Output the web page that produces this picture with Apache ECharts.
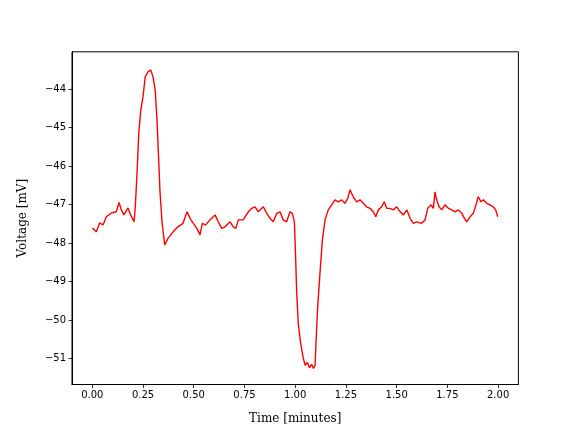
<!DOCTYPE html>
<html>
<head>
<meta charset="utf-8">
<script src="https://cdn.jsdelivr.net/npm/echarts@6/dist/echarts.min.js"></script>
<style>html,body{margin:0;padding:0;background:#fff}#c{width:576px;height:432px}</style>
</head>
<body>
<div id="c"></div>
<script>
var timeMin = [0.000,0.020,0.036,0.053,0.069,0.094,0.118,0.132,0.143,0.156,0.176,0.189,0.206,0.212,0.222,0.229,0.239,0.250,0.261,0.275,0.288,0.299,0.310,0.319,0.327,0.334,0.344,0.357,0.373,0.398,0.422,0.447,0.467,
0.482,0.498,0.515,0.531,0.542,0.559,0.580,0.605,0.621,0.638,0.654,0.679,0.695,0.707,0.720,0.744,0.769,0.786,0.802,0.818,0.843,0.860,0.876,0.892,0.909,0.925,0.941,0.958,0.974,0.986,0.996,
1.002,1.007,1.015,1.027,1.040,1.050,1.060,1.070,1.081,1.090,1.098,1.103,1.111,1.122,1.134,1.147,1.163,1.180,
1.196,1.212,1.229,1.245,1.259,1.270,1.286,1.303,1.319,1.336,1.352,1.369,1.385,1.397,1.410,1.426,1.439,1.451,1.467,1.483,1.500,1.517,1.533,1.550,1.566,1.582,1.598,
1.607,1.623,1.640,1.653,1.670,1.681,1.689,1.697,1.709,1.722,1.738,1.755,1.771,1.788,1.804,1.821,1.834,1.845,1.862,1.878,1.891,1.902,1.916,1.927,1.944,1.960,1.976,1.988,1.998];
var voltage = [-47.61,-47.71,-47.48,-47.53,-47.32,-47.22,-47.19,-46.95,-47.14,-47.27,-47.09,-47.27,-47.45,-47.06,-46.02,-45.14,-44.55,-44.20,-43.68,-43.55,-43.51,-43.68,-44.03,-44.81,-45.84,-46.70,-47.48,-48.05,-47.88,-47.71,-47.58,-47.49,-47.19,
-47.36,-47.49,-47.62,-47.79,-47.49,-47.53,-47.40,-47.27,-47.45,-47.62,-47.58,-47.45,-47.58,-47.62,-47.40,-47.40,-47.19,-47.10,-47.06,-47.19,-47.06,-47.23,-47.36,-47.45,-47.23,-47.19,-47.40,-47.45,-47.19,-47.23,-47.45,
-48.36,-49.23,-50.09,-50.61,-51.00,-51.18,-51.10,-51.24,-51.15,-51.26,-51.18,-50.52,-49.65,-48.79,-47.92,-47.40,-47.14,-47.01,
-46.88,-46.93,-46.88,-46.97,-46.84,-46.62,-46.80,-46.93,-46.88,-46.97,-47.06,-47.10,-47.19,-47.32,-47.14,-47.06,-46.93,-47.10,-47.10,-47.14,-47.06,-47.19,-47.27,-47.14,-47.36,-47.49,-47.45,
-47.40,-47.49,-47.40,-47.10,-47.01,-47.10,-46.67,-46.88,-47.06,-47.14,-47.01,-47.10,-47.14,-47.19,-47.14,-47.23,-47.36,-47.45,-47.32,-47.23,-47.01,-46.80,-46.93,-46.88,-46.97,-47.01,-47.06,-47.14,-47.32];
var xTicks = [0, 0.25, 0.5, 0.75, 1.0, 1.25, 1.5, 1.75, 2.0];
var yTicks = [-51, -50, -49, -48, -47, -46, -45, -44];

var pts = timeMin.map(function (t, i) { return [t, voltage[i]]; });
var chart = echarts.init(document.getElementById('c'), null, {renderer: 'canvas'});
var tickFont = {fontFamily: 'DejaVu Sans', fontSize: 10, color: '#000'};
var nameFont = {fontFamily: 'DejaVu Serif', fontSize: 12, color: '#000'};
chart.setOption({
  animation: false,
  backgroundColor: '#fff',
  grid: {left: 72, right: 57.6, top: 51.8, bottom: 47.5, show: true, borderColor: '#000', borderWidth: 1, backgroundColor: 'transparent'},
  xAxis: {
    type: 'value', min: -0.1, max: 2.1,
    name: 'Time [minutes]', nameLocation: 'middle', nameGap: 28,
    nameTextStyle: nameFont,
    axisLine: {show: true, onZero: false, lineStyle: {color: '#000', width: 1}},
    axisTick: {show: true, length: 3.5, lineStyle: {color: '#000', width: 0.8}, customValues: xTicks},
    axisLabel: Object.assign({margin: 5.5, customValues: xTicks, formatter: function (v) { return v.toFixed(2); }}, tickFont),
    splitLine: {show: false}
  },
  yAxis: {
    type: 'value', min: -51.675, max: -43.035,
    name: 'Voltage [mV]', nameLocation: 'middle', nameGap: 43,
    nameTextStyle: nameFont,
    axisLine: {show: true, onZero: false, lineStyle: {color: '#000', width: 1}},
    axisTick: {show: true, length: 3.5, lineStyle: {color: '#000', width: 0.8}, customValues: yTicks},
    axisLabel: Object.assign({margin: 6, customValues: yTicks, formatter: function (v) { return (v < 0 ? '\u2212' : '') + Math.abs(v); }}, tickFont),
    splitLine: {show: false}
  },
  series: [{
    type: 'line', data: pts, showSymbol: false, symbol: 'none', sampling: null,
    lineStyle: {color: '#ff0000', width: 1.4}, itemStyle: {color: '#ff0000'}
  }]
});
</script>
</body>
</html>
